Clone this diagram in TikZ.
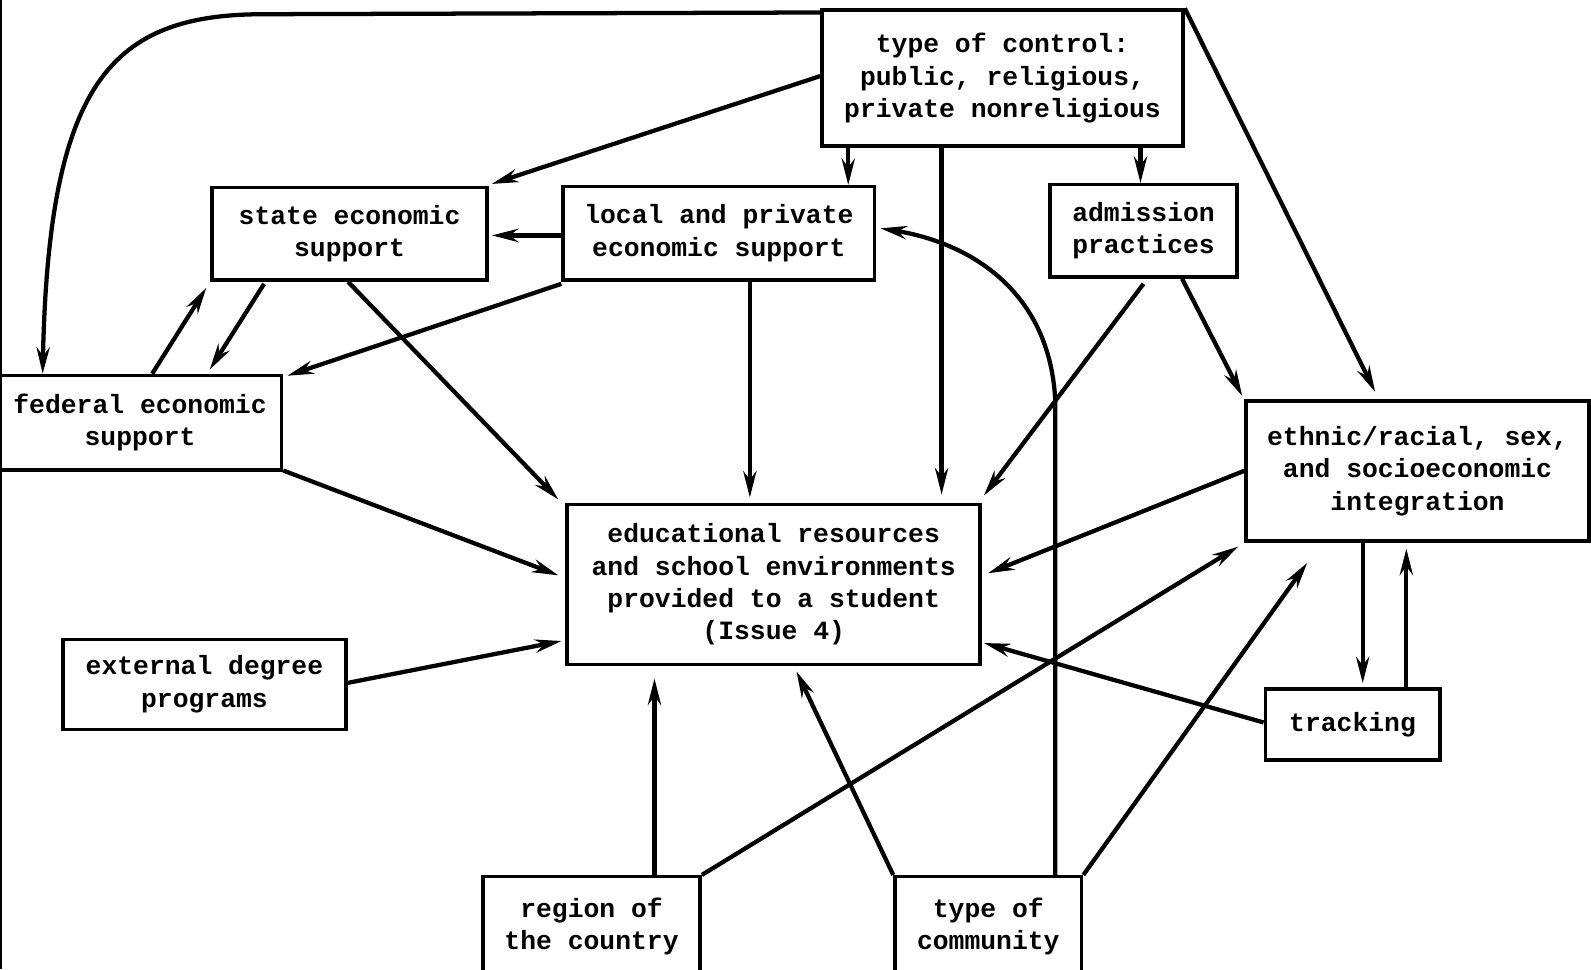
\documentclass[tikz,border=0pt]{standalone}
\usepackage{fontspec}
\setmonofont{Liberation Mono}
\usetikzlibrary{arrows.meta,calc}
\begin{document}
\begin{tikzpicture}[x=0.5pt,y=-0.5pt,
  box/.style={draw,line width=1.7pt,inner sep=0pt,align=center,
    font=\ttfamily\bfseries\fontsize{13}{16}\selectfont},
  arr/.style={line width=2.1pt,-{Stealth[length=13pt,width=6.5pt]}},
  ln/.style={line width=2.1pt}]
\useasboundingbox (0,0) rectangle (1568,955);
% page edge line
\draw[line width=1.3pt] (1,0) -- (1,955);
% nodes
\node[box,minimum width=178pt,minimum height=67pt] (control) at (988,77)
  {type of control:\\public, religious,\\private nonreligious};
\node[box,minimum width=135.5pt,minimum height=45.5pt] (state) at (344.5,230.5)
  {state economic\\support};
\node[box,minimum width=153.5pt,minimum height=46pt] (local) at (708.5,230)
  {local and private\\economic support};
\node[box,minimum width=92pt,minimum height=45.5pt] (admission) at (1127,227.5)
  {admission\\practices};
\node[box,minimum width=139.5pt,minimum height=46.5pt] (federal) at (138,416.5)
  {federal economic\\support};
\node[box,minimum width=169pt,minimum height=69pt] (ethnic) at (1397,464)
  {ethnic/racial, sex,\\and socioeconomic\\integration};
\node[box,minimum width=203.5pt,minimum height=79pt] (edu) at (762.5,576)
  {educational resources\\and school environments\\provided to a student\\(Issue 4)};
\node[box,minimum width=139.5pt,minimum height=44.5pt] (external) at (201.5,674.5)
  {external degree\\programs};
\node[box,minimum width=86pt,minimum height=35pt] (tracking) at (1333,714)
  {tracking};
\node[box,minimum width=107pt,minimum height=49pt] (region) at (583,913)
  {region of\\the country};
\node[box,minimum width=92pt,minimum height=49pt] (community) at (974,913)
  {type of\\community};
% connectors from type of control
\draw[arr] ([shift={(0,-2)}]control.west) -- ([shift={(3,-2)}]state.north east);
\draw[arr] (836,0 |- control.south) -- (836,0 |- local.north);
\draw[arr,shorten >=4pt] (928,0 |- control.south) -- (928,0 |- edu.north);
\draw[arr] (1124,0 |- control.south) -- (1124,0 |- admission.north);
\draw[arr] (control.north east) -- ([shift={(129,-7)}]ethnic.north west);
\draw[arr] ([shift={(0,4)}]control.north west) -- (260,14)
  .. controls (110,14) and (48,80) .. (42,0 |- federal.north);
% local
\draw[arr,shorten >=1.5pt] ([shift={(0,2)}]local.west) -- ([shift={(0,1.5)}]state.east);
\draw[arr] ([shift={(0,2)}]local.south west) -- ([shift={(4,2)}]federal.north east);
\draw[arr,shorten >=2.5pt] (739,0 |- local.south) -- (739,0 |- edu.north);
% state / federal
\draw[arr] ([shift={(53,2)}]state.south west) -- ([shift={(-72.5,-4)}]federal.north east);
\draw[arr] (150,0 |- federal.north) -- ([shift={(-4,6)}]state.south west);
\draw[arr] (343,0 |- state.south) -- ([shift={(-7,-3)}]edu.north west);
\draw[arr] ([shift={(0,-1)}]federal.south east) -- ([shift={(-7,-9)}]edu.west);
\draw[arr] ([shift={(0,-1.5)}]external.east) -- ([shift={(-4,-25)}]edu.south west);
% admission
\draw[arr] ([shift={(0,5)}]admission.south) -- ([shift={(2,-7)}]edu.north east);
\draw[arr] (1165,0 |- admission.south) -- ([shift={(-2,-3)}]ethnic.north west);
% ethnic / tracking
\draw[arr] (ethnic.west) -- ([shift={(6,-11)}]edu.east);
\draw[arr,shorten >=2pt] (1343,0 |- ethnic.south) -- (1343,0 |- tracking.north);
\draw[arr,shorten >=3pt] (1386,0 |- tracking.north) -- (1386,0 |- ethnic.south);
\draw[arr] ([shift={(0,-2)}]tracking.west) -- ([shift={(2,-23)}]edu.south east);
% region
\draw[arr,shorten >=6pt] (645,0 |- region.north) -- (645,0 |- edu.south);
\draw[arr] (region.north east) -- ([shift={(-6,4)}]ethnic.south west);
% community
\draw[arr] (community.north west) -- ([shift={(22.5,5)}]edu.south);
\draw[arr] (1040,0 |- community.north) -- (1040,395)
  .. controls (1035,290) and (960,240) .. ([shift={(4,-5)}]local.east);
\draw[arr] (community.north east) -- ([shift={(62,20)}]ethnic.south west);
\end{tikzpicture}
\end{document}
